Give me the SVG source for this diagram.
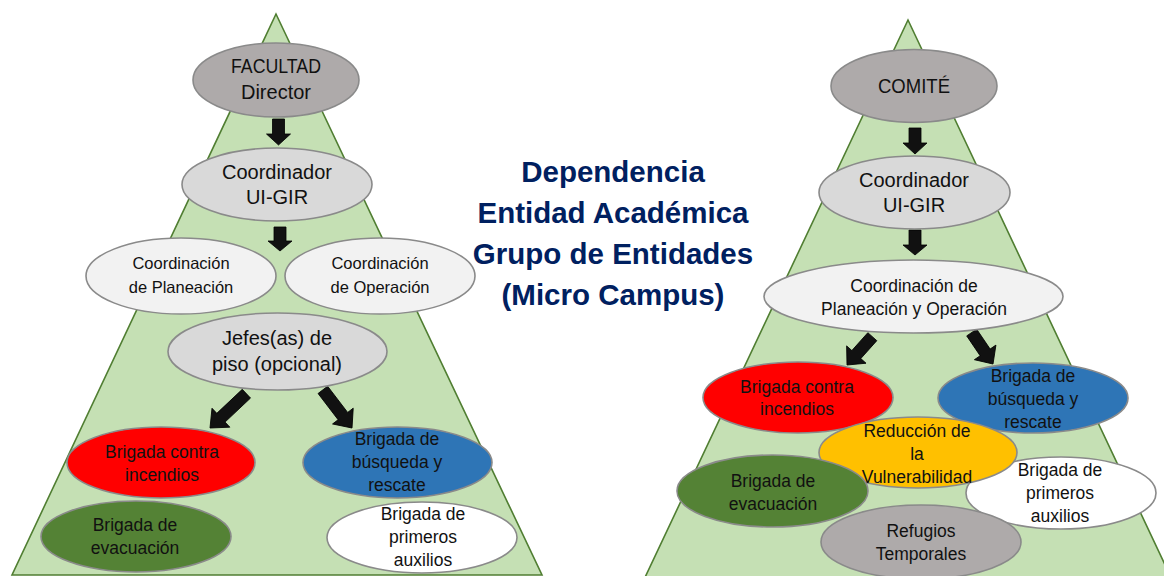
<svg xmlns="http://www.w3.org/2000/svg" width="1164" height="576" viewBox="0 0 1164 576">
<style>
.tri{fill:#c5e0b4;stroke:#507e32;stroke-width:1.6}
.n{stroke:#8a8a8a;stroke-width:1.6}
.g1{fill:#aeaaaa}.g2{fill:#d9d9d9}.g3{fill:#f2f2f2}
.red{fill:#ff0000}.blue{fill:#2e75b6}.green{fill:#548235}.white{fill:#ffffff}.yel{fill:#ffc000}
text{font-family:"Liberation Sans",Arial,sans-serif;fill:#111;text-anchor:middle}
.t20{font-size:20px}.t17{font-size:17.5px}.t165{font-size:16.5px}
.title{font-size:29.5px;font-weight:bold;fill:#002060}
.arr{fill:#111;stroke:#000;stroke-width:0.8}
</style>
<rect width="1164" height="576" fill="#ffffff"/>
<g id="pyramids">
<polygon class="tri" points="276,14 12,575 542,575"/>
<polygon class="tri" points="908,20 640,588 1176,588"/>
</g>
<g id="title">
<text class="title" x="613" y="182">Dependencia</text>
<text class="title" x="613" y="223">Entidad Académica</text>
<text class="title" x="613" y="264">Grupo de Entidades</text>
<text class="title" x="613" y="305">(Micro Campus)</text>
</g>
<g id="connectors">
<path class="arr" d="M-6,-26H6V-11H12L0,0L-12,-11H-6Z" transform="translate(278.5,145)"/>
<path class="arr" d="M-6,-24H6V-10H12L0,0L-12,-10H-6Z" transform="translate(280,251)"/>
<path class="arr" d="M-6,-50H6V-15H13L0,0L-13,-15H-6Z" transform="translate(210,428) rotate(46.7)"/>
<path class="arr" d="M-6,-48H6V-15H13L0,0L-13,-15H-6Z" transform="translate(352,428) rotate(-37.4)"/>
<path class="arr" d="M-6,-26H6V-11H12L0,0L-12,-11H-6Z" transform="translate(915,154)"/>
<path class="arr" d="M-6,-25H6V-10H12L0,0L-12,-10H-6Z" transform="translate(915,255)"/>
<path class="arr" d="M-6,-38H6V-14H13L0,0L-13,-14H-6Z" transform="translate(847,365) rotate(41.8)"/>
<path class="arr" d="M-6,-38H6V-14H13L0,0L-13,-14H-6Z" transform="translate(993,364) rotate(-34.1)"/>
</g>
<g id="facultad">
<ellipse class="n g1" cx="276" cy="80" rx="83" ry="37"/>
<text class="t20" x="276" y="73" textLength="90" lengthAdjust="spacingAndGlyphs">FACULTAD</text>
<text class="t20" x="276" y="99">Director</text>
</g>
<g id="coordinador-left">
<ellipse class="n g2" cx="277" cy="184.5" rx="95" ry="36.5"/>
<text class="t20" x="277" y="179">Coordinador</text>
<text class="t20" x="277" y="204">UI-GIR</text>
</g>
<g id="coord-planeacion">
<ellipse class="n g3" cx="181" cy="276" rx="95" ry="38"/>
<text class="t165" x="181" y="269">Coordinación</text>
<text class="t165" x="181" y="293">de Planeación</text>
</g>
<g id="coord-operacion">
<ellipse class="n g3" cx="380" cy="276" rx="95" ry="38"/>
<text class="t165" x="380" y="269">Coordinación</text>
<text class="t165" x="380" y="293">de Operación</text>
</g>
<g id="jefes">
<ellipse class="n g2" cx="277.5" cy="351.5" rx="109.5" ry="38.5"/>
<text class="t20" x="277" y="345">Jefes(as) de</text>
<text class="t20" x="277" y="371">piso (opcional)</text>
</g>
<g id="incendios-left">
<ellipse class="n red" cx="161" cy="462.5" rx="94" ry="35.5"/>
<text class="t17" x="162" y="458">Brigada contra</text>
<text class="t17" x="162" y="481">incendios</text>
</g>
<g id="busqueda-left">
<ellipse class="n blue" cx="397.5" cy="462.5" rx="94.5" ry="35.5"/>
<text class="t17" x="397" y="445">Brigada de</text>
<text class="t17" x="397" y="468">búsqueda y</text>
<text class="t17" x="397" y="491">rescate</text>
</g>
<g id="evacuacion-left">
<ellipse class="n green" cx="136" cy="536.5" rx="95" ry="35.5"/>
<text class="t17" x="135" y="531">Brigada de</text>
<text class="t17" x="135" y="554">evacuación</text>
</g>
<g id="primeros-left">
<ellipse class="n white" cx="422" cy="537.5" rx="95" ry="35.5"/>
<text class="t17" x="423" y="520">Brigada de</text>
<text class="t17" x="423" y="543">primeros</text>
<text class="t17" x="423" y="566">auxilios</text>
</g>
<g id="comite">
<ellipse class="n g1" cx="914" cy="86" rx="83" ry="36.5"/>
<text class="t20" x="914" y="93" textLength="72" lengthAdjust="spacingAndGlyphs">COMITÉ</text>
</g>
<g id="coordinador-right">
<ellipse class="n g2" cx="914.5" cy="192.5" rx="95.5" ry="36.5"/>
<text class="t20" x="914" y="187">Coordinador</text>
<text class="t20" x="914" y="212">UI-GIR</text>
</g>
<g id="coord-plan-oper">
<ellipse class="n g3" cx="913.5" cy="296.5" rx="149.5" ry="36.5"/>
<text class="t17" x="914" y="292">Coordinación de</text>
<text class="t17" x="914" y="315">Planeación y Operación</text>
</g>
<g id="incendios-right">
<ellipse class="n red" cx="798" cy="397.5" rx="95" ry="35.5"/>
<text class="t17" x="797" y="393">Brigada contra</text>
<text class="t17" x="797" y="415">incendios</text>
</g>
<g id="busqueda-right">
<ellipse class="n blue" cx="1033" cy="398" rx="95" ry="35"/>
<text class="t17" x="1033" y="382">Brigada de</text>
<text class="t17" x="1033" y="405">búsqueda y</text>
<text class="t17" x="1033" y="428">rescate</text>
</g>
<g id="primeros-right">
<ellipse class="n white" cx="1061" cy="493" rx="95" ry="36"/>
<text class="t17" x="1060" y="476">Brigada de</text>
<text class="t17" x="1060" y="499">primeros</text>
<text class="t17" x="1060" y="522">auxilios</text>
</g>
<g id="reduccion">
<ellipse class="n yel" cx="918" cy="452.5" rx="99" ry="35.5"/>
<text class="t17" x="917" y="437">Reducción de</text>
<text class="t17" x="917" y="460">la</text>
<text class="t17" x="917" y="483">Vulnerabilidad</text>
</g>
<g id="evacuacion-right">
<ellipse class="n green" cx="772.5" cy="491" rx="95.5" ry="36"/>
<text class="t17" x="773" y="487">Brigada de</text>
<text class="t17" x="773" y="510">evacuación</text>
</g>
<g id="refugios">
<ellipse class="n g1" cx="921" cy="542" rx="100" ry="37"/>
<text class="t17" x="921" y="537">Refugios</text>
<text class="t17" x="921" y="560">Temporales</text>
</g>
</svg>
